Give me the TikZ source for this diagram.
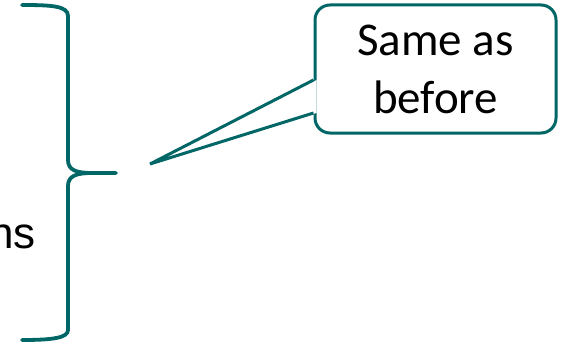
\documentclass[tikz,border=0pt]{standalone}
\usepackage{fontspec}
\setmainfont{Carlito}
\newfontfamily\arialfont{Liberation Sans}
\usetikzlibrary{
  positioning
}
\definecolor{BraceTeal}{RGB}{0,102,102}
\tikzset{
  bracepath/.style={
    draw=BraceTeal,
    line width=3.8pt,
    line cap=round
  },
  notebox/.style={
    rectangle,
    draw=BraceTeal,
    fill=white,
    line width=3pt,
    rounded corners=15pt,
    minimum width=241pt,
    minimum height=128pt,
    inner sep=0pt,
    align=center,
    font=\fontsize{47}{58}\selectfont
  },
  pointerline/.style={
    draw=BraceTeal,
    line width=3pt,
    line join=miter
  },
  sidetext/.style={
    inner sep=0pt,
    font=\arialfont\fontsize{44}{50}\selectfont
  }
}

\begin{document}
\begin{tikzpicture}[x=1pt,y=-1pt]
  \useasboundingbox (0,0) rectangle (561,345);
  \node[notebox] (same) at (435.5,69) {Same as\\before};
  \node[sidetext, anchor=base east] (word) at (36,248) {ns};
  \coordinate (tip) at (150,164);
  \coordinate (ptop) at ([yshift=-11pt]same.west);
  \coordinate (pbot) at ([yshift=-44pt]same.west);

  % pointer of the callout
  \fill[white] ([xshift=3pt]ptop) -- (tip) -- ([xshift=3pt]pbot) -- cycle;
  \draw[pointerline] (ptop) -- (tip) -- (pbot);

  \draw[bracepath] (22,5) .. controls (52,5) and (68,6) .. (68,16) -- (68,160)
    .. controls (68,170) and (76,173) .. (92,173) -- (116,173);
  \draw[bracepath] (92,173) .. controls (76,173) and (68,176) .. (68,186) -- (68,330)
    .. controls (68,338) and (52,340) .. (22,340);
\end{tikzpicture}
\end{document}
